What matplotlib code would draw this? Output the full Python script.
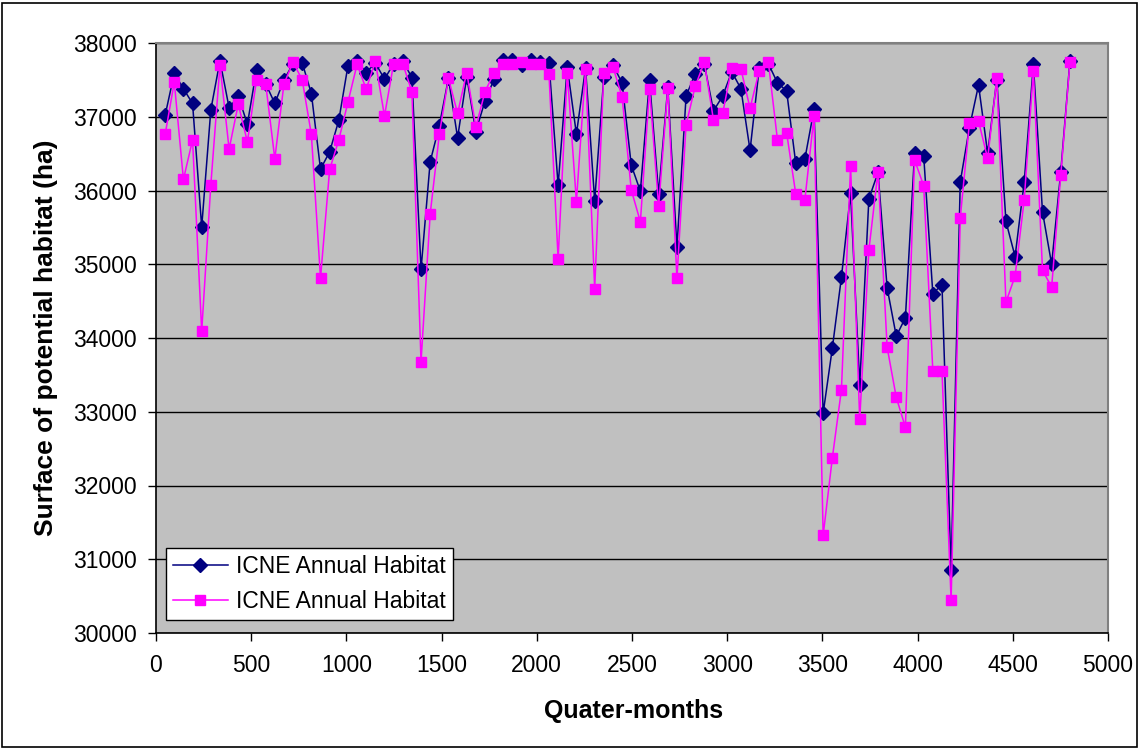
import matplotlib
matplotlib.use("Agg")
import matplotlib.pyplot as plt
from matplotlib.patches import Rectangle

plt.rcParams['font.family'] = ['Liberation Sans', 'DejaVu Sans']

step = 48
n_points = 100
quarter_months = [step * (i + 1) for i in range(n_points)]

icne_navy = [
    37020, 37590, 37380, 37180, 35505, 37095, 37760, 37120, 37280, 36900,
    37640, 37450, 37180, 37500, 37720, 37730, 37315, 36290, 36525, 36950,
    37690, 37750, 37600, 37730, 37510, 37720, 37760, 37530, 34930, 36390,
    36880, 37520, 36715, 37540, 36800, 37215, 37510, 37775, 37775, 37700,
    37770, 37740, 37730, 36070, 37675, 36765, 37660, 35860, 37540, 37700,
    37460, 36345, 35990, 37495, 35955, 37400, 35230, 37280, 37585, 37710,
    37080, 37280, 37610, 37380, 36545, 37655, 37720, 37460, 37350, 36370,
    36430, 37100, 32980, 33860, 34825, 35960, 33360, 35885, 36245, 34680,
    34025, 34275, 36505, 36470, 34600, 34725, 30850, 36115, 36850, 37430,
    36505, 37505, 35580, 35105, 36115, 37710, 35710, 35000, 36255, 37755,
]

icne_magenta = [
    36760, 37470, 36150, 36685, 34090, 36080, 37700, 36560, 37170, 36660,
    37500, 37450, 36430, 37445, 37740, 37500, 36760, 34810, 36285, 36685,
    37195, 37710, 37375, 37750, 37010, 37720, 37720, 37340, 33680, 35680,
    36760, 37520, 37045, 37600, 36860, 37340, 37600, 37720, 37710, 37745,
    37720, 37710, 37575, 35075, 37600, 35850, 37650, 34670, 37600, 37675,
    37270, 36010, 35575, 37375, 35785, 37390, 34810, 36890, 37415, 37740,
    36955, 37045, 37665, 37650, 37115, 37620, 37745, 36685, 36785, 35955,
    35875, 37010, 31325, 32370, 33300, 36335, 32895, 35190, 36255, 33875,
    33195, 32790, 36415, 36065, 33555, 33555, 30445, 35625, 36910, 36940,
    36435, 37520, 34485, 34840, 35875, 37620, 34920, 34690, 36210, 37740,
]

series_labels = ["ICNE Annual Habitat", "ICNE Annual Habitat"]
x_ticks = list(range(0, 5001, 500))
y_ticks = list(range(30000, 38001, 1000))

W, H = 1140, 749
L, R, T, B = 156, 1108, 43, 633
fig = plt.figure(figsize=(W / 100, H / 100), dpi=100)
fig.patch.set_facecolor('white')
ax = fig.add_axes([L / W, 1 - B / H, (R - L) / W, (B - T) / H])
ax.set_facecolor('#C0C0C0')

ax.plot(quarter_months, icne_navy, color='#000080', lw=1.1, marker='D',
        markersize=6.8, markerfacecolor='#000080', markeredgecolor='#000080',
        label=series_labels[0], zorder=3)
ax.plot(quarter_months, icne_magenta, color='#FF00FF', lw=1.1, marker='s',
        markersize=7, markerfacecolor='#FF00FF', markeredgecolor='#FF00FF',
        label=series_labels[1], zorder=4)

ax.set_xlim(0, 5000)
ax.set_ylim(30000, 38000)
ax.set_xticks(x_ticks)
ax.set_yticks(y_ticks)
ax.set_xticklabels([str(t) for t in x_ticks])
ax.set_yticklabels([str(t) for t in y_ticks])
ax.tick_params(axis='both', direction='out', length=6, width=1, labelsize=16.5,
               colors='black')
ax.tick_params(axis='x', pad=9)
ax.tick_params(axis='y', pad=8)
ax.yaxis.grid(True, color='black', lw=1)
ax.set_axisbelow(True)

for side in ['top', 'right']:
    ax.spines[side].set_color('#808080')
    ax.spines[side].set_linewidth(1.5)
for side in ['left', 'bottom']:
    ax.spines[side].set_color('black')
    ax.spines[side].set_linewidth(1.2)

fig.text(634 / W, 1 - 711 / H, 'Quater-months', fontsize=18, fontweight='bold',
         ha='center', va='center')
fig.text(46 / W, 1 - 338 / H, 'Surface of potential habitat (ha)', fontsize=19,
         fontweight='bold', ha='center', va='center', rotation=90)

leg = ax.legend(loc='lower left',
                bbox_to_anchor=((166 - L) / (R - L), (B - 620) / (B - T)),
                fontsize=16.5, frameon=True, fancybox=False, handlelength=2.4,
                borderpad=0.3, labelspacing=0.55, handletextpad=0.35,
                borderaxespad=0)
leg.get_frame().set_edgecolor('black')
leg.get_frame().set_facecolor('white')
leg.get_frame().set_linewidth(1)
leg.get_frame().set_alpha(1)

fig.patches.append(Rectangle((2 / W, 2 / H), (W - 5) / W, (H - 5) / H,
                             transform=fig.transFigure, fill=False,
                             edgecolor='black', lw=1.2))

fig.savefig('out.png', dpi=100, facecolor='white')
